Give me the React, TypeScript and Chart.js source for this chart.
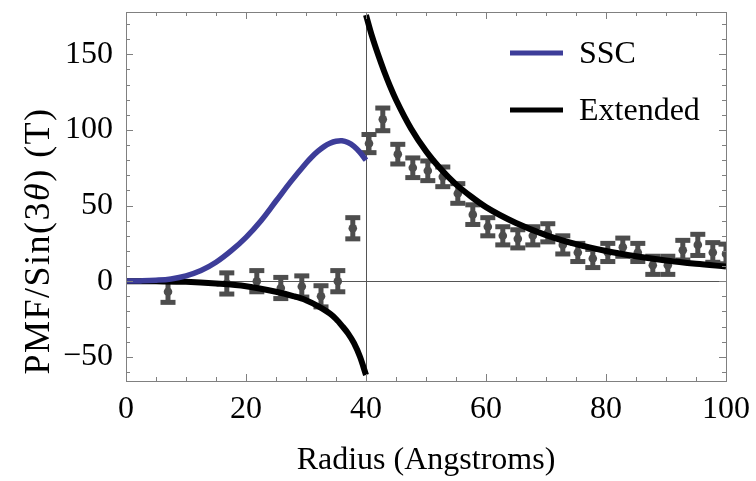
import React, { useEffect, useRef } from "react";
import { Chart, registerables } from "chart.js";

Chart.register(...registerables);

// ---------- data ----------
const xTickValues = [0, 20, 40, 60, 80, 100];
const yTickValues = [-50, 0, 50, 100, 150];
const xMinorStep = 5;
const yMinorStep = 10;

const seriesLabels = ["SSC", "Extended"];
const xAxisTitle = "Radius (Angstroms)";

// SSC curve
const sscX = [0, 2.5, 5, 7.5, 10, 12.5, 15, 17.5, 20, 22.5, 25, 27.5, 30, 31, 32, 33, 34, 35, 36, 37, 38, 39, 40];
const sscY = [0.1, 0.2, 0.6, 1.5, 3.5, 7, 12.5, 20, 29, 40, 53, 66, 78, 82.3, 86, 89, 91.2, 92.5, 92.8, 91.7, 89.2, 85.2, 80];

// Extended curve, inner branch (r < 40)
const extInX = [0, 5, 10, 15, 20, 25, 28, 30, 32, 34, 35, 36, 37, 38, 39, 40];
const extInY = [0, -0.1, -0.4, -1.5, -3.3, -7, -10, -12.6, -16.5, -21.5, -25, -29.5, -34.5, -41, -50, -62];

// Extended curve, outer branch (r > 40)
const extOutX = [40, 41, 42, 43, 44, 45, 47.5, 50, 52.5, 55, 57.5, 60, 65, 70, 75, 80, 85, 90, 95, 100];
const extOutY = [176, 162, 150, 139, 129, 120, 101, 86, 74, 64, 56, 49, 38.5, 30.5, 24.5, 20, 16.5, 13.7, 11.5, 9.7];

// measured PMF points with error bars
const dataX = [7.0, 16.8, 21.8, 25.8, 29.3, 32.5, 35.3, 37.8, 40.5, 42.8, 45.3, 47.8, 50.3, 52.8, 55.3, 57.8, 60.3, 62.8, 65.3, 67.8, 70.3, 72.8, 75.3, 77.8, 80.3, 82.8, 85.3, 87.8, 90.3, 92.8, 95.3, 97.8, 100.0];
const dataY = [-7, -1.5, 0, -4.5, -3.5, -10, 0, 35, 91, 107, 84, 75, 73, 69, 58, 44, 36, 30, 28, 30, 32, 24, 19, 15, 19, 22.5, 19, 10.5, 10.5, 20.5, 24, 19, 18];
const dataErr = [7, 7, 7, 7, 7, 7, 7, 7, 6, 7.5, 6.5, 6.5, 6.5, 6.5, 6.5, 6.5, 6, 6, 6, 6, 6, 6, 6, 6, 6, 6, 6, 6, 6, 6.5, 7, 6.5, 6.5];

// ---------- styles ----------
const FONT_FAMILY = "'Liberation Serif', 'Times New Roman', Times, serif";
const FONT_SIZE = 32;
const BLUE = "rgb(61,61,153)";
const BLACK = "#000000";
const ERR = "#4d4d4d";
const FRAME = "#808080";
const AXISLINE = "#555555";

const pts = (xs: number[], ys: number[]) => xs.map((x, i) => ({ x, y: ys[i] }));

const framePlugin = {
  id: "mmaFrame",
  beforeDatasetsDraw(chart: any) {
    const { ctx, chartArea: a, scales } = chart;
    const xs = scales.x, ys = scales.y;
    ctx.save();
    ctx.beginPath();
    ctx.rect(a.left, a.top, a.right - a.left, a.bottom - a.top);
    ctx.clip();
    // axes lines
    ctx.strokeStyle = AXISLINE;
    ctx.lineWidth = 1;
    const y0 = Math.round(ys.getPixelForValue(0)) + 0.5;
    const x40 = Math.round(xs.getPixelForValue(40)) + 0.5;
    ctx.beginPath();
    ctx.moveTo(a.left, y0);
    ctx.lineTo(a.right, y0);
    ctx.moveTo(x40, a.top);
    ctx.lineTo(x40, a.bottom);
    ctx.stroke();
    // error bars
    ctx.strokeStyle = ERR;
    ctx.fillStyle = ERR;
    for (let i = 0; i < dataX.length; i++) {
      const px = xs.getPixelForValue(dataX[i]);
      const pt = ys.getPixelForValue(dataY[i] + dataErr[i]);
      const pb = ys.getPixelForValue(dataY[i] - dataErr[i]);
      ctx.lineWidth = 5;
      ctx.beginPath();
      ctx.moveTo(px, pt);
      ctx.lineTo(px, pb);
      ctx.stroke();
      ctx.fillRect(px - 7.5, pt - 2.5, 15, 5);
      ctx.fillRect(px - 7.5, pb - 2.5, 15, 5);
    }
    ctx.restore();
  },
  afterDatasetsDraw(chart: any) {
    const { ctx, chartArea: a, scales } = chart;
    const xs = scales.x, ys = scales.y;
    ctx.save();
    // frame
    ctx.strokeStyle = FRAME;
    ctx.lineWidth = 1;
    ctx.strokeRect(Math.round(a.left) + 0.5, Math.round(a.top) + 0.5, Math.round(a.right - a.left), Math.round(a.bottom - a.top));
    // x ticks (bottom & top)
    ctx.beginPath();
    for (let v = xs.min; v <= xs.max + 1e-9; v += xMinorStep) {
      const major = xTickValues.includes(v);
      const len = major ? 7 : 4;
      const px = Math.round(xs.getPixelForValue(v)) + 0.5;
      ctx.moveTo(px, a.bottom);
      ctx.lineTo(px, a.bottom - len);
      ctx.moveTo(px, a.top);
      ctx.lineTo(px, a.top + len);
    }
    // y ticks (left & right)
    for (let v = Math.ceil(ys.min / yMinorStep) * yMinorStep; v <= ys.max + 1e-9; v += yMinorStep) {
      const major = yTickValues.includes(v);
      const len = major ? 7 : 4;
      const py = Math.round(ys.getPixelForValue(v)) + 0.5;
      ctx.moveTo(a.left, py);
      ctx.lineTo(a.left + len, py);
      ctx.moveTo(a.right, py);
      ctx.lineTo(a.right - len, py);
    }
    ctx.stroke();

    // legend
    const font = `${FONT_SIZE}px ${FONT_FAMILY}`;
    ctx.font = font;
    ctx.textBaseline = "middle";
    ctx.textAlign = "left";
    const legendColors = [BLUE, BLACK];
    const legendY = [53, 110];
    for (let i = 0; i < seriesLabels.length; i++) {
      ctx.strokeStyle = legendColors[i];
      ctx.lineWidth = 5;
      ctx.beginPath();
      ctx.moveTo(510, legendY[i]);
      ctx.lineTo(563, legendY[i]);
      ctx.stroke();
      ctx.fillStyle = "#000";
      ctx.fillText(seriesLabels[i], 579, legendY[i] + 2);
    }

    // y axis title with italic theta
    const parts = [
      { t: "PMF/Sin(3", it: false },
      { t: "θ", it: true },
      { t: ") (T)", it: false },
    ];
    const TS = 36;
    const fontN = `${TS}px ${FONT_FAMILY}`;
    const fontI = `italic ${TS}px ${FONT_FAMILY}`;
    (ctx as any).letterSpacing = "1.5px";
    let total = 0;
    const widths = parts.map((p) => {
      ctx.font = p.it ? fontI : fontN;
      const w = ctx.measureText(p.t).width;
      total += w;
      return w;
    });
    ctx.translate(40, 241);
    ctx.rotate(-Math.PI / 2);
    ctx.fillStyle = "#000";
    ctx.textAlign = "left";
    let cx = -total / 2;
    parts.forEach((p, i) => {
      ctx.font = p.it ? fontI : fontN;
      ctx.fillText(p.t, cx, 0);
      cx += widths[i];
    });
    (ctx as any).letterSpacing = "0px";
    ctx.restore();
  },
};

export default function App() {
  const ref = useRef<HTMLCanvasElement | null>(null);
  useEffect(() => {
    if (!ref.current) return;
    const font = { family: FONT_FAMILY, size: FONT_SIZE };
    const chart = new Chart(ref.current, {
      type: "scatter",
      data: {
        datasets: [
          {
            label: seriesLabels[0],
            data: pts(sscX, sscY),
            showLine: true,
            borderColor: BLUE,
            borderWidth: 5.5,
            pointRadius: 0,
            tension: 0.4,
            order: 0,
          },
          {
            label: seriesLabels[1],
            data: pts(extInX, extInY),
            showLine: true,
            borderColor: BLACK,
            borderWidth: 6,
            pointRadius: 0,
            cubicInterpolationMode: "monotone",
            order: 1,
          },
          {
            label: seriesLabels[1] + " (outer)",
            data: pts(extOutX, extOutY),
            showLine: true,
            borderColor: BLACK,
            borderWidth: 6,
            pointRadius: 0,
            cubicInterpolationMode: "monotone",
            order: 2,
          },
          {
            label: "PMF",
            data: pts(dataX, dataY),
            showLine: false,
            backgroundColor: ERR,
            borderWidth: 0,
            pointRadius: 4.3,
            order: 3,
          },
        ],
      } as any,
      options: {
        animation: false,
        responsive: false,
        devicePixelRatio: 1,
        layout: { padding: { top: 12, right: 30, left: 0, bottom: 0 } },
        plugins: { legend: { display: false }, tooltip: { enabled: false } },
        scales: {
          x: {
            type: "linear",
            min: 0,
            max: 100,
            afterBuildTicks: (s: any) => {
              s.ticks = xTickValues.map((v) => ({ value: v }));
            },
            afterFit: (s: any) => {
              s.height = 100;
              s.paddingLeft = 0;
              s.paddingRight = 0;
            },
            ticks: { font, color: "#000", padding: 9, maxRotation: 0, autoSkip: false },
            grid: { display: false, drawTicks: false },
            border: { display: false },
            title: { display: true, text: xAxisTitle, font, color: "#000", padding: { top: 0, bottom: 1 } },
          },
          y: {
            type: "linear",
            min: -66,
            max: 178,
            afterBuildTicks: (s: any) => {
              s.ticks = yTickValues.map((v) => ({ value: v }));
            },
            afterFit: (s: any) => {
              s.width = 126;
              s.paddingTop = 0;
              s.paddingBottom = 0;
            },
            ticks: {
              font,
              color: "#000",
              padding: 13,
              callback: (v: any) => (v < 0 ? "\u2212" + Math.abs(v) : String(v)),
            },
            grid: { display: false, drawTicks: false },
            border: { display: false },
          },
        },
      } as any,
      plugins: [framePlugin],
    });
    return () => chart.destroy();
  }, []);
  return (
    <div style={{ position: "absolute", left: 0, top: 0, width: 756, height: 481, background: "#fff" }}>
      <canvas ref={ref} width={756} height={481} style={{ display: "block", width: 756, height: 481 }} />
    </div>
  );
}
